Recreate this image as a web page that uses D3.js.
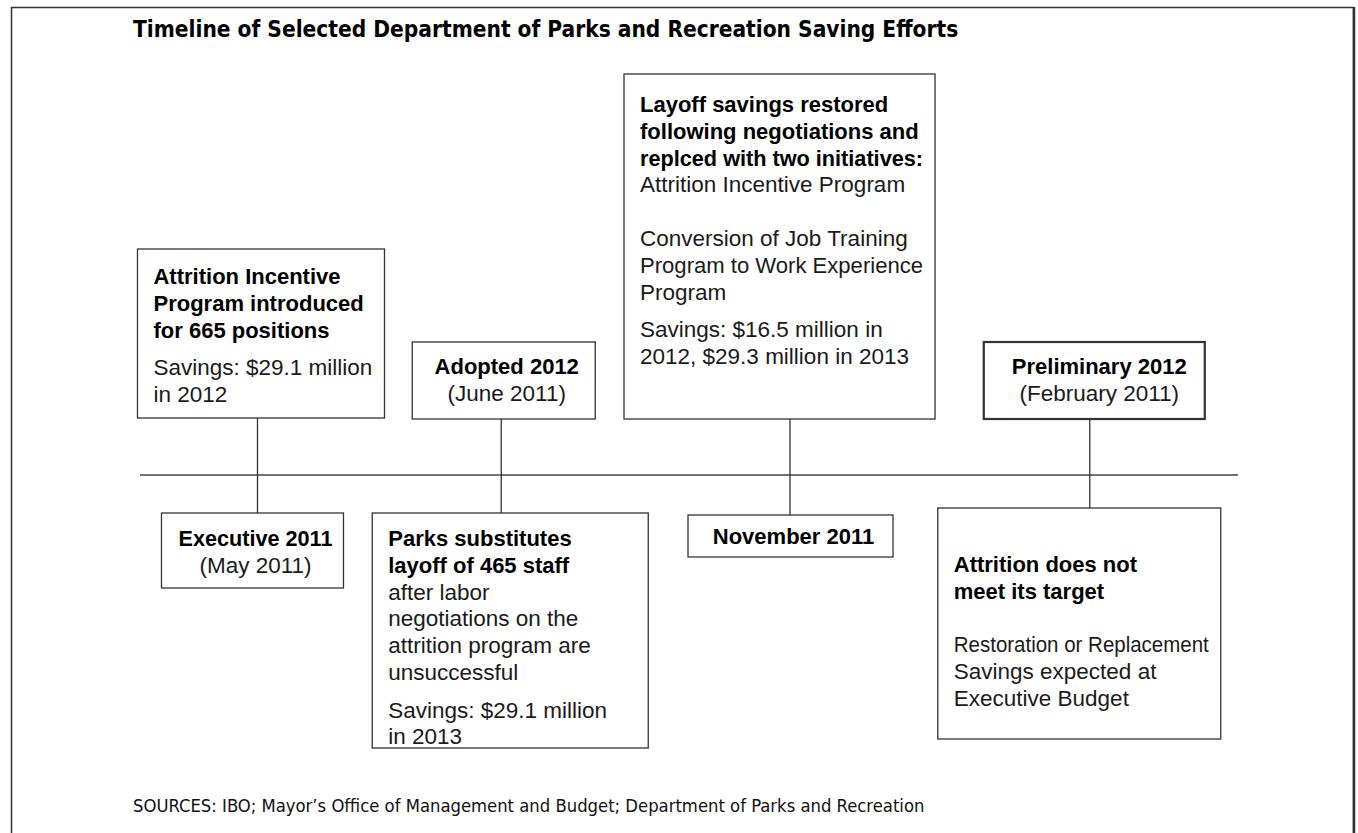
<!DOCTYPE html>
<html>
<head>
<meta charset="utf-8">
<script src="https://cdn.jsdelivr.net/npm/d3@7"></script>
<style>
  body { margin: 0; background: #fff; }
  svg { display: block; }
</style>
</head>
<body>
<svg id="chart"></svg>
<script>
const title = "Timeline of Selected Department of Parks and Recreation Saving Efforts";
const source = "SOURCES: IBO; Mayor’s Office of Management and Budget; Department of Parks and Recreation";

const events = ["Executive 2011", "Adopted 2012", "November 2011", "Preliminary 2012"];
// where each event sits along the timeline, 0 = left end, 1 = right end
const eventPos = [0.107, 0.329, 0.592, 0.865];

// "**" = bold line, "" = blank line, "-" = small gap
const aboveNotes = [
  ["**Attrition Incentive", "**Program introduced", "**for 665 positions", "-", "Savings: $29.1 million", "in 2012"],
  ["**Adopted 2012", "(June 2011)"],
  ["**Layoff savings restored", "**following negotiations and", "**replced with two initiatives:", "Attrition Incentive Program", "",
   "Conversion of Job Training", "Program to Work Experience", "Program", "-", "Savings: $16.5 million in", "2012, $29.3 million in 2013"],
  ["**Preliminary 2012", "(February 2011)"]
];
const belowNotes = [
  ["**Executive 2011", "(May 2011)"],
  ["**Parks substitutes", "**layoff of 465 staff", "after labor", "negotiations on the", "attrition program are", "unsuccessful", "-",
   "Savings: $29.1 million", "in 2013"],
  ["**November 2011"],
  ["", "**Attrition does not", "**meet its target", "", "Restoration or Replacement", "Savings expected at", "Executive Budget"]
];

const width = 1358;
const height = 833;
const lineY = 475;
const lineH = 26.8;
const bodyFont = "'Liberation Sans', Arial, sans-serif";
const narrowFont = "'Liberation Sans Narrow', 'Arial Narrow', 'DejaVu Sans Condensed', sans-serif";

// box layout, dx is relative to the event's spot on the timeline
const aboveBox = [
  {dx: -120, y: 249, w: 247, h: 169, pad: 35, align: "start"},
  {dx: -89, y: 342, w: 183, h: 77, pad: 32, align: "middle", shift: 3},
  {dx: -166, y: 74, w: 311, h: 345, pad: 38, align: "start"},
  {dx: -106, y: 342, w: 221, h: 77, pad: 32, align: "middle", shift: 5, thick: true}
];
const belowBox = [
  {dx: -96, y: 513, w: 182, h: 75, pad: 33, align: "middle", shift: 3},
  {dx: -129, y: 513, w: 276, h: 235, pad: 33, align: "start"},
  {dx: -102, y: 515, w: 205, h: 42, pad: 29, align: "middle", shift: 3},
  {dx: -152, y: 508, w: 283, h: 231, pad: 37, align: "start"}
];

const svg = d3.select("#chart")
  .attr("width", width)
  .attr("height", height)
  .attr("viewBox", `0 0 ${width} ${height}`);

// outer frame, open at the bottom
svg.append("rect")
  .attr("x", 11.5).attr("y", 7.5)
  .attr("width", 1342).attr("height", 900)
  .attr("fill", "none")
  .attr("stroke", "#333")
  .attr("stroke-width", 1.5);
svg.append("line")
  .attr("x1", 1354).attr("x2", 1354)
  .attr("y1", 7).attr("y2", height)
  .attr("stroke", "#333").attr("stroke-width", 2.5);

svg.append("text")
  .attr("x", 133).attr("y", 37)
  .attr("font-family", narrowFont)
  .attr("font-weight", 700)
  .attr("font-size", 22.5)
  .attr("fill", "#000")
  .text(title);

const xScale = d3.scaleLinear()
  .domain([0, 1])
  .range([140, 1238]);

// timeline
svg.append("line")
  .attr("x1", xScale(0)).attr("x2", xScale(1))
  .attr("y1", lineY).attr("y2", lineY)
  .attr("stroke", "#444")
  .attr("stroke-width", 1.5);

const drawNote = (lines, box, ex) => {
  const bx = ex + box.dx;
  const g = svg.append("g");
  g.append("rect")
    .attr("x", bx).attr("y", box.y)
    .attr("width", box.w).attr("height", box.h)
    .attr("fill", "#fff")
    .attr("stroke", "#333")
    .attr("stroke-width", box.thick ? 2.2 : 1.3);

  const tx = box.align === "middle" ? bx + box.w / 2 + (box.shift || 0) : bx + 16;
  const maxW = box.w - 28;
  let y = box.y + box.pad;
  lines.forEach(l => {
    if (l === "") { y += lineH; return; }
    if (l === "-") { y += lineH * 0.4; return; }
    const bold = l.startsWith("**");
    const t = g.append("text")
      .attr("x", tx).attr("y", y)
      .attr("text-anchor", box.align)
      .attr("font-family", bodyFont)
      .attr("font-size", bold ? 22 : 22.5)
      .attr("font-weight", bold ? 700 : 400)
      .attr("fill", bold ? "#000" : "#1a1a1a")
      .text(bold ? l.slice(2) : l);
    // squeeze lines that would run past the box edge
    if (t.node().getComputedTextLength() > maxW) {
      t.attr("textLength", maxW).attr("lengthAdjust", "spacingAndGlyphs");
    }
    y += lineH;
  });
};

// connectors from each upper note down through the timeline to the lower note
events.forEach((ev, i) => {
  const ex = xScale(eventPos[i]);
  svg.append("line")
    .attr("x1", ex).attr("x2", ex)
    .attr("y1", aboveBox[i].y + aboveBox[i].h)
    .attr("y2", belowBox[i].y)
    .attr("stroke", "#333")
    .attr("stroke-width", 1.3);
  drawNote(aboveNotes[i], aboveBox[i], ex);
  drawNote(belowNotes[i], belowBox[i], ex);
});

svg.append("text")
  .attr("x", 133).attr("y", 812)
  .attr("font-family", narrowFont)
  .attr("font-size", 18.3)
  .attr("fill", "#111")
  .text(source);
</script>
</body>
</html>
